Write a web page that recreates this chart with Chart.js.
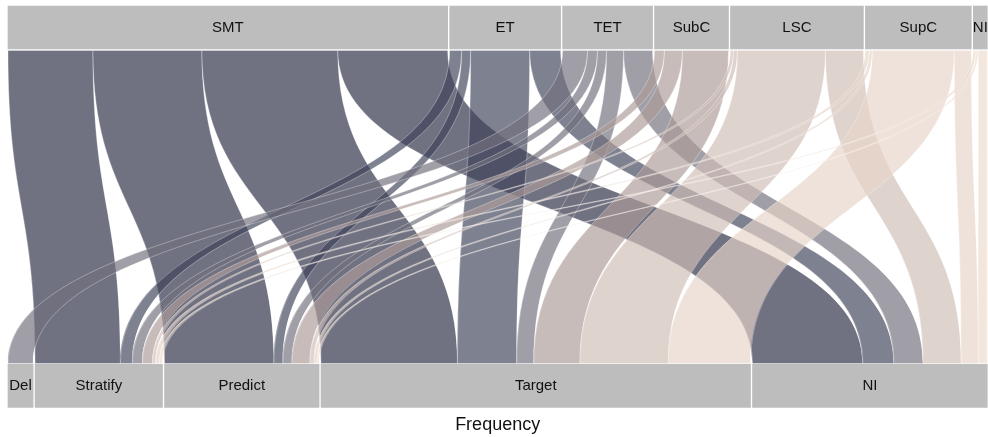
<!DOCTYPE html>
<html>
<head>
<meta charset="utf-8">
<style>
  html, body { margin: 0; padding: 0; background: #ffffff; }
  #wrap { width: 988px; height: 437px; }
</style>
<script src="https://cdn.jsdelivr.net/npm/chart.js@4/dist/chart.umd.min.js"></script>
</head>
<body>
<div id="wrap"><canvas id="chart" width="988" height="437"></canvas></div>
<script>
// Categories of the two dimensions
const topCategories = ['SMT', 'ET', 'TET', 'SubC', 'LSC', 'SupC', 'NI'];
const bottomCategories = ['Del', 'Stratify', 'Predict', 'Target', 'NI'];

// Frequency of each bottom category (Del, Stratify, Predict, Target, NI) within each top category
const smtFreq  = [0, 85, 109, 136, 110];
const etFreq   = [0, 12, 9, 59, 31];
const tetFreq  = [25, 10, 9, 17, 29];
const subcFreq = [0, 10, 18, 46, 0];
const lscFreq  = [0, 3, 4, 88, 38];
const supcFreq = [0, 4, 3, 82, 17];
const niFreq   = [0, 3, 2, 0, 9];

const flows = [smtFreq, etFreq, tetFreq, subcFreq, lscFreq, supcFreq, niFreq];

// Ribbon colours per top category
const ribbonColors = [
  'rgba(42, 45, 68, 0.67)',
  'rgba(63, 67, 90, 0.67)',
  'rgba(113, 112, 125, 0.67)',
  'rgba(173, 155, 152, 0.67)',
  'rgba(207, 190, 182, 0.67)',
  'rgba(230, 212, 200, 0.67)',
  'rgba(237, 219, 204, 0.67)'
];

const BOX_COLOR = '#bdbdbd';
const BAR_THICKNESS = 43;
const GAP = 0.00204; // gap between neighbouring boxes, as a fraction of the axis

const topTotals = flows.map(r => r.reduce((a, b) => a + b, 0));
const bottomTotals = bottomCategories.map((_, j) => flows.reduce((a, r) => a + r[j], 0));
const grandTotal = topTotals.reduce((a, b) => a + b, 0);

// Lay out boxes of one dimension along the 0..1 axis
function layoutRow(totals) {
  const n = totals.length;
  const scale = (1 - (n - 1) * GAP) / grandTotal;
  const spans = [];
  let cum = 0;
  totals.forEach((t, i) => {
    const s = cum * scale + i * GAP;
    spans.push([s, s + t * scale]);
    cum += t;
  });
  return { spans, scale };
}
const topLayout = layoutRow(topTotals);
const bottomLayout = layoutRow(bottomTotals);

const datasets = [];
topCategories.forEach((name, i) => {
  datasets.push({
    label: name, data: [topLayout.spans[i], null],
    backgroundColor: BOX_COLOR, borderWidth: 0, grouped: false,
    barThickness: BAR_THICKNESS, clip: false
  });
});
bottomCategories.forEach((name, i) => {
  datasets.push({
    label: name, data: [null, bottomLayout.spans[i]],
    backgroundColor: BOX_COLOR, borderWidth: 0, grouped: false,
    barThickness: BAR_THICKNESS, clip: false
  });
});

const ribbonPlugin = {
  id: 'ribbons',
  beforeDatasetsDraw(chart) {
    const { ctx } = chart;
    const xs = chart.scales.x, ys = chart.scales.y;
    const yTop = ys.getPixelForValue(0) + BAR_THICKNESS / 2 + 1.5;
    const yBot = ys.getPixelForValue(1) - BAR_THICKNESS / 2 - 0.8;
    const yMid = (yTop + yBot) / 2;
    const bottomOffsets = bottomCategories.map(() => 0);
    ctx.save();
    flows.forEach((row, i) => {
      let topOffset = 0;
      row.forEach((v, j) => {
        if (v <= 0) { return; }
        const t0 = topLayout.spans[i][0] + topOffset * topLayout.scale;
        const t1 = t0 + v * topLayout.scale;
        const b0 = bottomLayout.spans[j][0] + bottomOffsets[j] * bottomLayout.scale;
        const b1 = b0 + v * bottomLayout.scale;
        topOffset += v;
        bottomOffsets[j] += v;
        const xa = xs.getPixelForValue(t0), xb = xs.getPixelForValue(t1);
        const xc = xs.getPixelForValue(b0), xd = xs.getPixelForValue(b1);
        ctx.beginPath();
        ctx.moveTo(xa, yTop);
        ctx.bezierCurveTo(xa, yMid, xc, yMid, xc, yBot);
        ctx.lineTo(xd, yBot);
        ctx.bezierCurveTo(xd, yMid, xb, yMid, xb, yTop);
        ctx.closePath();
        ctx.fillStyle = ribbonColors[i];
        ctx.fill();
        ctx.lineWidth = 0.7;
        ctx.strokeStyle = 'rgba(255,255,255,0.45)';
        ctx.stroke();
      });
    });
    ctx.restore();
  },
  afterDatasetsDraw(chart) {
    const { ctx } = chart;
    const xs = chart.scales.x, ys = chart.scales.y;
    ctx.save();
    ctx.font = '15px "Liberation Sans", Arial, sans-serif';
    ctx.fillStyle = '#111111';
    ctx.textAlign = 'center';
    ctx.textBaseline = 'middle';
    const drawRow = (names, spans, rowIndex) => {
      const yc = ys.getPixelForValue(rowIndex);
      names.forEach((name, i) => {
        const x0 = xs.getPixelForValue(spans[i][0]);
        const x1 = xs.getPixelForValue(spans[i][1]);
        ctx.save();
        ctx.beginPath();
        ctx.rect(x0, yc - BAR_THICKNESS / 2, x1 - x0, BAR_THICKNESS);
        ctx.clip();
        ctx.fillText(name, (x0 + x1) / 2, yc + 0.5);
        ctx.restore();
      });
    };
    drawRow(topCategories, topLayout.spans, 0);
    drawRow(bottomCategories, bottomLayout.spans, 1);
    ctx.restore();
  }
};

new Chart(document.getElementById('chart'), {
  type: 'bar',
  data: { labels: ['Category', 'Outcome'], datasets },
  options: {
    indexAxis: 'y',
    responsive: false,
    devicePixelRatio: 1,
    animation: false,
    layout: { padding: { left: 8, right: 0.7, top: 27.5, bottom: 0 } },
    plugins: { legend: { display: false }, tooltip: { enabled: false } },
    scales: {
      x: {
        type: 'linear', min: 0, max: 1,
        grid: { display: false, drawTicks: false },
        border: { display: false },
        ticks: { display: false },
        title: {
          display: true, text: 'Frequency', color: '#111111',
          font: { family: '"Liberation Sans", Arial, sans-serif', size: 18 },
          padding: { top: 28.4, bottom: 1.2 }
        }
      },
      y: {
        type: 'category', offset: false, display: false
      }
    }
  },
  plugins: [ribbonPlugin]
});
</script>
</body>
</html>
